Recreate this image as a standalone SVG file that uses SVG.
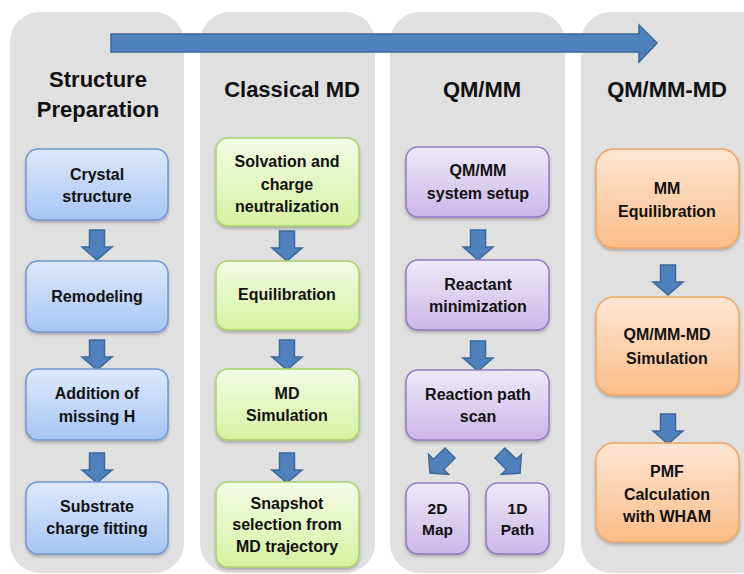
<svg xmlns="http://www.w3.org/2000/svg" width="744" height="574" viewBox="0 0 744 574">
<defs>
<linearGradient id="gBlue" x1="0" y1="0" x2="0" y2="1"><stop offset="0" stop-color="#dde9fc"/><stop offset="1" stop-color="#a6c5f4"/></linearGradient>
<linearGradient id="gGreen" x1="0" y1="0" x2="0" y2="1"><stop offset="0" stop-color="#f3fbe5"/><stop offset="1" stop-color="#d5f2a0"/></linearGradient>
<linearGradient id="gPurple" x1="0" y1="0" x2="0" y2="1"><stop offset="0" stop-color="#efe9f8"/><stop offset="1" stop-color="#cab6e8"/></linearGradient>
<linearGradient id="gOrange" x1="0" y1="0" x2="0" y2="1"><stop offset="0" stop-color="#fee6d4"/><stop offset="1" stop-color="#fbbd88"/></linearGradient>
<filter id="sh" x="-10%" y="-10%" width="120%" height="130%"><feDropShadow dx="0" dy="2" stdDeviation="1.5" flood-color="#000" flood-opacity="0.25"/></filter>
<path id="darr" d="M-7.5,-15 H7.5 V2 H15 L0,15 L-15,2 H-7.5 Z"/>
</defs>
<style>
.panel{fill:#e0e0e0}
.b{fill:url(#gBlue);stroke:#6c96cf;stroke-width:1.5;filter:url(#sh)}
.g{fill:url(#gGreen);stroke:#a8d16b;stroke-width:1.5;filter:url(#sh)}
.p{fill:url(#gPurple);stroke:#9479bd;stroke-width:1.5;filter:url(#sh)}
.o{fill:url(#gOrange);stroke:#f0a563;stroke-width:1.5;filter:url(#sh)}
.arr{fill:#4f81bd;stroke:#3a6898;stroke-width:1.5}
text{font-family:"Liberation Sans",Arial,sans-serif;font-weight:bold;fill:#111;text-anchor:middle}
.t{font-size:16px}
.s{font-size:15.5px}
.h{font-size:22px}
</style>
<g id="panels">
<rect class="panel" x="10" y="12" width="174" height="561" rx="30"/>
<rect class="panel" x="200" y="12" width="175" height="561" rx="30"/>
<rect class="panel" x="390" y="12" width="175" height="561" rx="30"/>
<rect class="panel" x="581" y="12" width="190" height="561" rx="30"/>
</g>
<g id="titles">
<text class="h" x="98" y="87">Structure</text>
<text class="h" x="98" y="117">Preparation</text>
<text class="h" x="292" y="97">Classical MD</text>
<text class="h" x="482" y="97">QM/MM</text>
<text class="h" x="667" y="97">QM/MM-MD</text>
</g>
<g id="connectors">
<path class="arr" d="M111,34 H639 V25 L657,43 L639,62 V52 H111 Z"/>
<use href="#darr" class="arr" x="97" y="245"/>
<use href="#darr" class="arr" x="97" y="355"/>
<use href="#darr" class="arr" x="97" y="468"/>
<use href="#darr" class="arr" x="287" y="246"/>
<use href="#darr" class="arr" x="287" y="355"/>
<use href="#darr" class="arr" x="287" y="468"/>
<use href="#darr" class="arr" x="478" y="245"/>
<use href="#darr" class="arr" x="478" y="356"/>
<use href="#darr" class="arr" x="668" y="280"/>
<use href="#darr" class="arr" x="668" y="429"/>
<use href="#darr" class="arr" transform="translate(440,463) rotate(45) scale(0.95)"/>
<use href="#darr" class="arr" transform="translate(510,463) rotate(-45) scale(0.95)"/>
</g>
<g id="n-crystal"><rect class="b" x="26" y="149" width="142" height="71" rx="12"/><text class="t" x="97" y="180">Crystal</text><text class="t" x="97" y="202">structure</text></g>
<g id="n-remodeling"><rect class="b" x="26" y="261" width="142" height="71" rx="12"/><text class="t" x="97" y="302">Remodeling</text></g>
<g id="n-addition"><rect class="b" x="26" y="369" width="142" height="71" rx="12"/><text class="t" x="97" y="399">Addition of</text><text class="t" x="97" y="422">missing H</text></g>
<g id="n-substrate"><rect class="b" x="26" y="482" width="142" height="72" rx="12"/><text class="t" x="97" y="512">Substrate</text><text class="t" x="97" y="534">charge fitting</text></g>
<g id="n-solvation"><rect class="g" x="216" y="138" width="143" height="88" rx="12"/><text class="t" x="287" y="167">Solvation and</text><text class="t" x="287" y="190">charge</text><text class="t" x="287" y="212">neutralization</text></g>
<g id="n-equil"><rect class="g" x="216" y="261" width="143" height="69" rx="12"/><text class="t" x="287" y="300">Equilibration</text></g>
<g id="n-md"><rect class="g" x="216" y="369" width="143" height="71" rx="12"/><text class="t" x="287" y="399">MD</text><text class="t" x="287" y="421">Simulation</text></g>
<g id="n-snapshot"><rect class="g" x="216" y="482" width="143" height="85" rx="12"/><text class="t" x="287" y="509">Snapshot</text><text class="t" x="287" y="530">selection from</text><text class="t" x="287" y="552">MD trajectory</text></g>
<g id="n-qmmmsetup"><rect class="p" x="406" y="147" width="143" height="70" rx="12"/><text class="t" x="478" y="176">QM/MM</text><text class="t" x="478" y="199">system setup</text></g>
<g id="n-reactant"><rect class="p" x="406" y="260" width="143" height="70" rx="12"/><text class="t" x="478" y="290">Reactant</text><text class="t" x="478" y="312">minimization</text></g>
<g id="n-scan"><rect class="p" x="406" y="370" width="143" height="70" rx="12"/><text class="t" x="478" y="400">Reaction path</text><text class="t" x="478" y="422">scan</text></g>
<g id="n-2dmap"><rect class="p" x="406" y="483" width="63" height="71" rx="12"/><text class="s" x="437.5" y="514">2D</text><text class="s" x="437.5" y="535">Map</text></g>
<g id="n-1dpath"><rect class="p" x="486" y="483" width="63" height="71" rx="12"/><text class="s" x="517.5" y="514">1D</text><text class="s" x="517.5" y="535">Path</text></g>
<g id="n-mmequil"><rect class="o" x="596" y="149" width="143" height="99" rx="18"/><text class="t" x="667" y="194">MM</text><text class="t" x="667" y="217">Equilibration</text></g>
<g id="n-qmmmmd"><rect class="o" x="596" y="297" width="143" height="98" rx="18"/><text class="t" x="667" y="340">QM/MM-MD</text><text class="t" x="667" y="364">Simulation</text></g>
<g id="n-pmf"><rect class="o" x="596" y="443" width="143" height="99" rx="18"/><text class="t" x="667" y="477">PMF</text><text class="t" x="667" y="500">Calculation</text><text class="t" x="667" y="522">with WHAM</text></g>
</svg>
